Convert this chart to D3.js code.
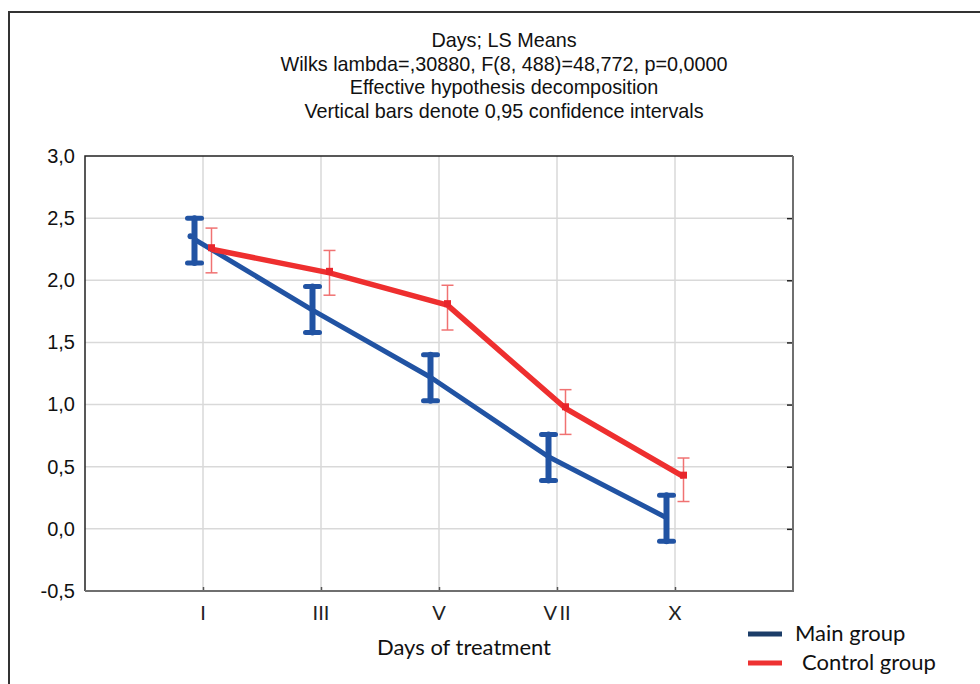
<!DOCTYPE html>
<html>
<head>
<meta charset="utf-8">
<script src="https://cdn.jsdelivr.net/npm/d3@7"></script>
<style>
  body { margin: 0; background: #fff; }
  svg { display: block; }
</style>
</head>
<body>
<div id="chartWrapper"></div>
<script>
// values
const days = ["I", "III", "V", "VII", "X"];
const dayLabels = ["I", "III", "V", "V\u2009II", "X"];
const mainMean = [2.33, 1.76, 1.22, 0.58, 0.09];
const mainLow  = [2.14, 1.58, 1.03, 0.39, -0.10];
const mainHigh = [2.50, 1.95, 1.40, 0.76, 0.27];
const ctrlMean = [2.25, 2.06, 1.80, 0.97, 0.42];
const ctrlLow  = [2.06, 1.88, 1.60, 0.76, 0.22];
const ctrlHigh = [2.42, 2.24, 1.96, 1.12, 0.57];
const yTicks = [-0.5, 0, 0.5, 1.0, 1.5, 2.0, 2.5, 3.0];
const titleLines = [
  "Days; LS Means",
  "Wilks lambda=,30880, F(8, 488)=48,772, p=0,0000",
  "Effective hypothesis decomposition",
  "Vertical bars denote 0,95 confidence intervals"
];
const groups = ["Main group", "Control group"];

const W = 980, H = 684;
const margin = {left: 85, top: 156, right: 187, bottom: 93};
const w = W - margin.left - margin.right,
      h = H - margin.top - margin.bottom;

let svg = d3.select('#chartWrapper')
  .append("svg")
  .attr("width", W)
  .attr("height", H);

// outer frame (runs off the right and bottom edge)
svg.append("path")
  .attr("d", "M9," + (H + 5) + "V12H" + (W + 5))
  .attr("fill", "none")
  .attr("stroke", "#333")
  .attr("stroke-width", 2);

// title
svg.append("g").selectAll("text")
  .data(titleLines)
  .enter().append("text")
  .attr("x", 504)
  .attr("y", function(d, i) { return 47 + i * 23.6; })
  .attr("text-anchor", "middle")
  .style("font-family", "'Liberation Sans', Arial, sans-serif")
  .style("font-size", "19.8px")
  .style("fill", "#111")
  .text(function(d) { return d; });

let g = svg.append("g")
  .attr("transform", "translate(" + margin.left + "," + margin.top + ")");

let x = d3.scalePoint().domain(days).range([0, w]).padding(1);
let y = d3.scaleLinear().domain([-0.5, 3.0]).range([h, 0]);
// small side shift so the two error bars don't overlap
let shift = d3.scalePoint().domain(groups).range([-8.5, 8.5]);

// grid
g.append("g").selectAll("line.hgrid")
  .data(yTicks.slice(1, -1))
  .enter().append("line")
  .attr("x1", 0).attr("x2", w)
  .attr("y1", function(d) { return y(d); })
  .attr("y2", function(d) { return y(d); })
  .attr("stroke", "#d9d9d9")
  .attr("stroke-width", 1.5);

g.append("g").selectAll("line.vgrid")
  .data(days)
  .enter().append("line")
  .attr("y1", 0).attr("y2", h)
  .attr("x1", function(d) { return x(d); })
  .attr("x2", function(d) { return x(d); })
  .attr("stroke", "#d9d9d9")
  .attr("stroke-width", 1.5);

// axes
let yAxis = g.append("g")
  .call(d3.axisLeft(y).tickValues(yTicks).tickSize(0).tickPadding(10)
    .tickFormat(function(d) { return d3.format(".1f")(d).replace(".", ",").replace("\u2212", "-"); }));
yAxis.select(".domain").remove();
yAxis.selectAll("text")
  .style("font-family", "'Liberation Sans', Arial, sans-serif")
  .style("font-size", "20px")
  .style("fill", "#111");

let rightTicks = g.append("g")
  .attr("transform", "translate(" + w + ",0)")
  .call(d3.axisLeft(y).tickValues(yTicks.slice(1, -1)).tickSize(6).tickFormat(""));
rightTicks.select(".domain").remove();
rightTicks.selectAll("line").attr("stroke", "#222").attr("stroke-width", 1.5);

let xAxis = g.append("g")
  .attr("transform", "translate(0," + h + ")")
  .call(d3.axisTop(x).tickSize(4).tickFormat(""));
xAxis.select(".domain").remove();
xAxis.selectAll("line").attr("stroke", "#555").attr("stroke-width", 1.5);

g.append("g").selectAll("text")
  .data(days)
  .enter().append("text")
  .attr("x", function(d) { return x(d); })
  .attr("y", h + 29)
  .attr("text-anchor", "middle")
  .style("font-family", "Lato, 'Open Sans', sans-serif")
  .style("font-size", "20px")
  .style("fill", "#222")
  .text(function(d, i) { return dayLabels[i]; });

// plot frame
g.append("path")
  .attr("d", "M0," + h + "V0H" + w)
  .attr("fill", "none").attr("stroke", "#222").attr("stroke-width", 1.5);
g.append("path")
  .attr("d", "M0," + h + "H" + w + "V0")
  .attr("fill", "none").attr("stroke", "#6f6f6f").attr("stroke-width", 2);

// axis title
svg.append("text")
  .attr("x", 464)
  .attr("y", 655)
  .attr("text-anchor", "middle")
  .style("font-family", "Lato, 'Open Sans', sans-serif")
  .style("font-size", "22px")
  .style("fill", "#111")
  .text("Days of treatment");

// series
let mainData = days.map(function(d, i) {
  return {day: d, mean: mainMean[i], lo: mainLow[i], hi: mainHigh[i]};
});
let ctrlData = days.map(function(d, i) {
  return {day: d, mean: ctrlMean[i], lo: ctrlLow[i], hi: ctrlHigh[i]};
});

function px(d, grp) { return x(d.day) + shift(grp); }

let line = d3.line()
  .x(function(d) { return d.px; })
  .y(function(d) { return y(d.mean); });

mainData.forEach(function(d) { d.px = px(d, "Main group"); });
ctrlData.forEach(function(d) { d.px = px(d, "Control group"); });

// control group: thin light error bars
let cBars = g.append("g").selectAll("g")
  .data(ctrlData).enter().append("g")
  .attr("stroke", "#f07272").attr("stroke-width", 1.5);
cBars.append("line")
  .attr("x1", function(d) { return d.px; }).attr("x2", function(d) { return d.px; })
  .attr("y1", function(d) { return y(d.hi); }).attr("y2", function(d) { return y(d.lo); });
cBars.append("line")
  .attr("x1", function(d) { return d.px - 6; }).attr("x2", function(d) { return d.px + 6; })
  .attr("y1", function(d) { return y(d.hi); }).attr("y2", function(d) { return y(d.hi); });
cBars.append("line")
  .attr("x1", function(d) { return d.px - 6; }).attr("x2", function(d) { return d.px + 6; })
  .attr("y1", function(d) { return y(d.lo); }).attr("y2", function(d) { return y(d.lo); });

// main group line
g.append("path")
  .datum(mainData)
  .attr("d", line)
  .attr("fill", "none")
  .attr("stroke", "#2153a3")
  .attr("stroke-width", 5)
  .attr("stroke-linejoin", "round");

g.append("g").selectAll("circle")
  .data(mainData.slice(0, 1)).enter().append("circle")
  .attr("cx", function(d) { return d.px - 4; })
  .attr("cy", function(d) { return y(d.mean) - 3; })
  .attr("r", 3)
  .attr("fill", "#2153a3");

// main group: thick error bars
let mBars = g.append("g").selectAll("g")
  .data(mainData).enter().append("g")
  .attr("stroke", "#2153a3").attr("stroke-linecap", "round");
mBars.append("line")
  .attr("stroke-width", 6)
  .attr("x1", function(d) { return d.px; }).attr("x2", function(d) { return d.px; })
  .attr("y1", function(d) { return y(d.hi); }).attr("y2", function(d) { return y(d.lo); });
mBars.append("line")
  .attr("stroke-width", 5)
  .attr("x1", function(d) { return d.px - 7; }).attr("x2", function(d) { return d.px + 7; })
  .attr("y1", function(d) { return y(d.hi); }).attr("y2", function(d) { return y(d.hi); });
mBars.append("line")
  .attr("stroke-width", 5)
  .attr("x1", function(d) { return d.px - 7; }).attr("x2", function(d) { return d.px + 7; })
  .attr("y1", function(d) { return y(d.lo); }).attr("y2", function(d) { return y(d.lo); });

// control group line + square markers
g.append("path")
  .datum(ctrlData)
  .attr("d", line)
  .attr("fill", "none")
  .attr("stroke", "#ee2f2f")
  .attr("stroke-width", 5.5)
  .attr("stroke-linejoin", "round");

g.append("g").selectAll("rect")
  .data(ctrlData).enter().append("rect")
  .attr("x", function(d) { return d.px - 3.5; })
  .attr("y", function(d) { return y(d.mean) - 5; })
  .attr("width", 7).attr("height", 7)
  .attr("fill", "#e8262c");

// legend
let legendColors = ["#1c3d68", "#ee3232"];
let legend = svg.append("g").selectAll("g")
  .data(groups).enter().append("g")
  .attr("transform", function(d, i) { return "translate(748," + (634 + i * 29) + ")"; });
legend.append("line")
  .attr("x1", 0).attr("x2", 34)
  .attr("stroke", function(d, i) { return legendColors[i]; })
  .attr("stroke-width", 5);
legend.append("text")
  .attr("x", function(d, i) { return i === 0 ? 47 : 54; })
  .attr("y", 7)
  .style("font-family", "Lato, 'Open Sans', sans-serif")
  .style("font-size", "22px")
  .style("fill", "#111")
  .text(function(d) { return d; });
</script>
</body>
</html>
